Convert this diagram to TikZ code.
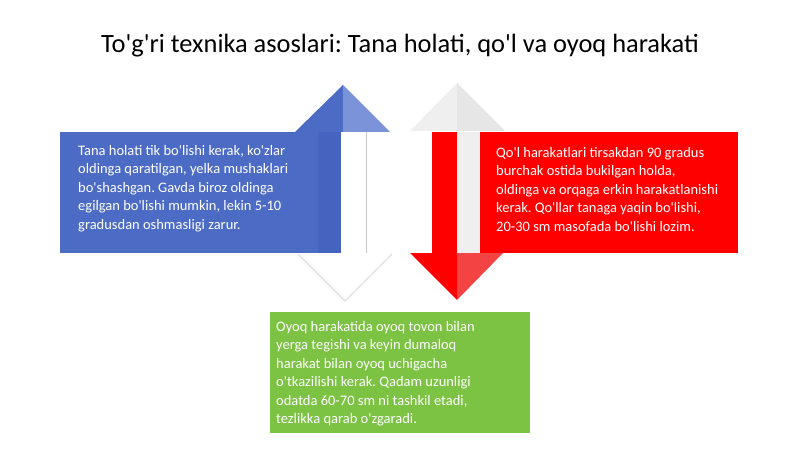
\documentclass[tikz,border=0pt]{standalone}
\usepackage{fontspec}
\setmainfont{Carlito}[Ligatures=TeXOff]
\frenchspacing
\definecolor{bluebox}{HTML}{4C6BC5}
\definecolor{blueshaft}{HTML}{4564C0}
\definecolor{bluelight}{HTML}{7B93D8}
\definecolor{redbox}{HTML}{FF0000}
\definecolor{redlight}{HTML}{F34343}
\definecolor{ghost}{HTML}{EFEFEF}
\definecolor{ghostdark}{HTML}{E6E6E6}
\definecolor{greenbox}{HTML}{7CC243}
\tikzset{
  body/.style={anchor=north west, inner sep=0pt, align=left, text=white,
    font=\fontsize{14.5}{18.5}\selectfont},
}
\begin{document}
\begin{tikzpicture}[x=1pt,y=-1pt]
\useasboundingbox[fill=white] (0,0) rectangle (800,449);
% title
\node[font=\fontsize{26.4}{28}\selectfont] (title) at (400,46) {To'g'ri texnika asoslari: Tana holati, qo'l va oyoq harakati};

% ghost down head under blue arrow
\fill[white] (298,253) -- (345,300) -- (392,253) -- cycle;
\draw[black!12, line width=1.2pt] (298,254) -- (345,301) -- (392,254);
% ghost up head above red arrow
\fill[ghost] (410,131) -- (457,83) -- (457,131) -- cycle;
\fill[ghostdark] (457,83) -- (505,131) -- (457,131) -- cycle;

% blue box and up arrow
\fill[bluebox] (60,132) rectangle (318,253);
\fill[blueshaft] (318,132) rectangle (341,253);
\fill[bluebox] (295,132) -- (343,85) -- (343,132) -- cycle;
\fill[bluelight] (343,85) -- (390,132) -- (343,132) -- cycle;
\draw[black!22, line width=1pt] (366,132) -- (366,253);

% red box and down arrow
\fill[ghost] (457,132) rectangle (480,253);
\fill[redbox] (432,132) rectangle (457,253);
\fill[redbox] (480,132) rectangle (738,253);
\fill[redbox] (410,253) -- (457,300) -- (457,253) -- cycle;
\fill[redlight] (457,253) -- (457,300) -- (503,253) -- cycle;

% green box
\fill[greenbox] (270,312) rectangle (530,433);

\node[body] (bluetext) at (78,145) {Tana holati tik bo'lishi kerak, ko'zlar\\oldinga qaratilgan, yelka mushaklari\\bo'shashgan. Gavda biroz oldinga\\egilgan bo'lishi mumkin, lekin 5-10\\gradusdan oshmasligi zarur.};
\node[body] (redtext) at (496,147) {Qo'l harakatlari tirsakdan 90 gradus\\burchak ostida bukilgan holda,\\oldinga va orqaga erkin harakatlanishi\\kerak. Qo'llar tanaga yaqin bo'lishi,\\20-30 sm masofada bo'lishi lozim.};
\node[body] (greentext) at (276,321) {Oyoq harakatida oyoq tovon bilan\\yerga tegishi va keyin dumaloq\\harakat bilan oyoq uchigacha\\o'tkazilishi kerak. Qadam uzunligi\\odatda 60-70 sm ni tashkil etadi,\\tezlikka qarab o'zgaradi.};
\end{tikzpicture}
\end{document}
